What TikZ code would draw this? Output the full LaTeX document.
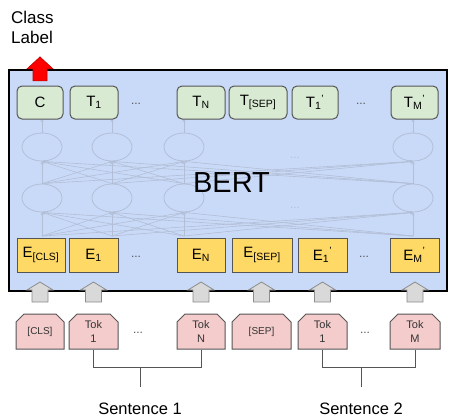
\documentclass[tikz,border=0pt]{standalone}
\usepackage{fontspec}
\setmainfont{Liberation Sans}
\usetikzlibrary{shapes.misc,shapes.geometric,arrows.meta}
\definecolor{bertBlue}{HTML}{C9DAF8}
\definecolor{outGreen}{HTML}{D9EAD3}
\definecolor{embYellow}{HTML}{FFD966}
\definecolor{tokPink}{HTML}{F4CCCC}
\definecolor{edgeGray}{HTML}{555555}
\definecolor{arrowGray}{HTML}{D9D9D9}
\definecolor{arrowEdge}{HTML}{8C8C8C}
\definecolor{netGray}{HTML}{B2BED6}
\definecolor{dotGray}{HTML}{555555}

\tikzset{
 bertBox/.style={draw=black, fill=bertBlue, line width=2.2pt, inner sep=0pt},
 outBox/.style={draw=edgeGray, fill=outGreen, rounded corners=5pt, line width=1pt,
   minimum height=33pt, inner sep=0pt, font=\fontsize{15}{18}\selectfont},
 embBox/.style={draw=edgeGray, fill=embYellow, line width=1pt,
   minimum height=34pt, inner sep=0pt, font=\fontsize{15}{18}\selectfont},
 tokBox/.style={chamfered rectangle, chamfered rectangle corners={north west,north east},
   chamfered rectangle xsep=4pt, chamfered rectangle ysep=4pt, draw=edgeGray, fill=tokPink,
   line width=1pt, minimum height=35pt, inner sep=0pt, align=center, text=black!80,
   font=\fontsize{11}{14}\selectfont},
 dotsTxt/.style={text=dotGray, font=\fontsize{12}{14}\selectfont},
 netNode/.style={draw=netGray, line width=0.8pt, ellipse, minimum width=40pt, minimum height=28pt},
 netLine/.style={draw=netGray, line width=0.6pt, -{Stealth[length=3pt,width=3pt]}},
 bracket/.style={draw=edgeGray, line width=1pt},
 inArrow/.pic={\draw[arrowEdge, fill=arrowGray, line width=0.8pt]
   (-8,10) -- (-8,-2) -- (-13,-2) -- (0,-10) -- (13,-2) -- (8,-2) -- (8,10) -- cycle;},
 clsArrow/.pic={\draw[red!75!black, fill=red, line width=0.6pt]
   (-7,12) -- (-7,0) -- (-13,0) -- (0,-12) -- (13,0) -- (7,0) -- (7,12) -- cycle;}
}

\begin{document}
\begin{tikzpicture}[x=1pt,y=-1pt]
 \useasboundingbox (0,0) rectangle (449,416);
 % Encoder
 \node[bertBox, minimum width=438pt, minimum height=221pt] (bert) at (228,180.5) {};
 % Hidden layers
 \foreach \i/\x in {1/42,2/112,3/184,4/413} {
   \node[netNode] (hA\i) at (\x,198) {};
   \node[netNode] (hB\i) at (\x,147) {};
   \coordinate (in\i) at (\x,236);
   \coordinate (out\i) at (\x,119);
 }
 \foreach \i in {1,...,4} {
   \foreach \j in {1,...,4} {
     \draw[netLine] (in\i) -- (hA\j.south);
     \draw[netLine] (hA\i.north) -- (hB\j.south);
   }
   \draw[netLine] (hB\i.north) -- (out\i);
 }
 \node[dotsTxt, text=netGray] (hDotsA) at (295,158) {...};
 \node[dotsTxt, text=netGray] (hDotsB) at (295,208) {...};
 \node[font=\fontsize{29}{32}\selectfont] (bertLabel) at (231.5,183) {BERT};
 % Output row
 \node[outBox, minimum width=46pt] (tc) at (40,102.5) {C};
 \node[outBox, minimum width=48pt] (t1) at (94,102.5) {T\textsubscript{1}};
 \node[dotsTxt] (tDotsA) at (136,104) {...};
 \node[outBox, minimum width=48pt] (tn) at (201,102.5) {T\textsubscript{N}};
 \node[outBox, minimum width=58pt] (tsep) at (258,102.5) {T\textsubscript{[SEP]}};
 \node[outBox, minimum width=46pt] (t1p) at (315,102.5) {T\textsubscript{1}\textsuperscript{'}};
 \node[dotsTxt] (tDotsB) at (361,104) {...};
 \node[outBox, minimum width=47pt] (tmp) at (414.5,102.5) {T\textsubscript{M}\textsuperscript{'}};
 % Embedding row
 \node[embBox, minimum width=48pt] (ecls) at (41,255) {E\textsubscript{[CLS]}};
 \node[embBox, minimum width=49pt] (e1) at (93.5,255) {E\textsubscript{1}};
 \node[dotsTxt] (eDotsA) at (136,257) {...};
 \node[embBox, minimum width=48pt] (en) at (201,255) {E\textsubscript{N}};
 \node[embBox, minimum width=60pt] (esep) at (262,255) {E\textsubscript{[SEP]}};
 \node[embBox, minimum width=49pt] (e1p) at (322.5,255) {E\textsubscript{1}\textsuperscript{'}};
 \node[dotsTxt] (eDotsB) at (364,257) {...};
 \node[embBox, minimum width=49pt] (emp) at (414.5,255) {E\textsubscript{M}\textsuperscript{'}};
 % Class label
 \pic at (tc |- bert.north) {clsArrow};
 \node[anchor=north west, align=left, inner sep=2pt, font=\fontsize{17}{20}\selectfont] (clsLabel) at (9,9) {Class\\Label};
 % Input tokens
 \node[tokBox, minimum width=48pt, font=\fontsize{10}{12}\selectfont] (kcls) at (40,331.5) {[CLS]};
 \node[tokBox, minimum width=49pt] (k1) at (93.5,331.5) {Tok\\1};
 \node[dotsTxt] (kDotsA) at (138,333) {...};
 \node[tokBox, minimum width=48pt] (kn) at (201,331.5) {Tok\\N};
 \node[tokBox, minimum width=59pt, font=\fontsize{10}{12}\selectfont] (ksep) at (261.5,331.5) {[SEP]};
 \node[tokBox, minimum width=49pt] (k1p) at (322.5,331.5) {Tok\\1};
 \node[dotsTxt] (kDotsB) at (365,333) {...};
 \node[tokBox, minimum width=50pt] (km) at (415,331.5) {Tok\\M};
 % Input arrows
 \coordinate (arrowRow) at (0,292);
 \foreach \k in {kcls,k1,kn,ksep,k1p,km}
   \pic at (\k |- arrowRow) {inArrow};
 % Sentences
 \node[anchor=base, font=\fontsize{16.5}{20}\selectfont] (sentOne) at (140,414) {Sentence 1};
 \node[anchor=base, font=\fontsize{16.5}{20}\selectfont] (sentTwo) at (361,414) {Sentence 2};
 \coordinate (sOneMid) at (140,367);
 \coordinate (sOneEnd) at (140,387);
 \coordinate (sTwoMid) at (361,367);
 \coordinate (sTwoEnd) at (361,387);
 \draw[bracket] (k1.south) |- (sOneMid) -| (kn.south);
 \draw[bracket] (sOneMid) -- (sOneEnd);
 \draw[bracket] (k1p.south) |- (sTwoMid) -| (km.south);
 \draw[bracket] (sTwoMid) -- (sTwoEnd);
\end{tikzpicture}
\end{document}
